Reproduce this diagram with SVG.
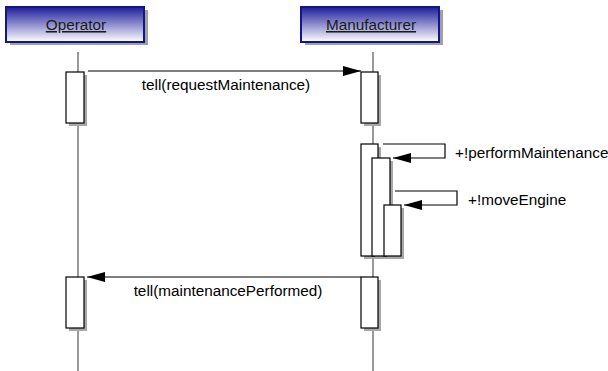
<svg xmlns="http://www.w3.org/2000/svg" width="608" height="371" viewBox="0 0 608 371">
  <defs>
    <linearGradient id="hdr" x1="0" y1="0" x2="0" y2="1">
      <stop offset="0" stop-color="#1e1e9a"/>
      <stop offset="1" stop-color="#ffffff"/>
    </linearGradient>
    <marker id="arrow" viewBox="0 0 18 10" refX="18" refY="5" markerWidth="18" markerHeight="10" markerUnits="userSpaceOnUse" orient="auto">
      <path d="M0,0 L18,5 L0,10 Z" fill="#000"/>
    </marker>
  </defs>
  <style>
    text { font-family: "Liberation Sans", Arial, sans-serif; font-size: 15.3px; fill: #000; }
    .hdr { fill: url(#hdr); stroke: #14148c; stroke-width: 2; }
    .hdr-shadow { fill: #a0a0a0; }
    .title { text-anchor: middle; text-decoration: underline; fill: #1a1a1a; }
    .life { stroke: #555; stroke-width: 1.2; fill: none; }
    .act { fill: #fff; stroke: #000; stroke-width: 1.2; }
    .act-shadow { fill: #a8a8a8; }
    .msg { stroke: #000; stroke-width: 1.2; fill: none; marker-end: url(#arrow); }
    .lbl { text-anchor: middle; }
  </style>

  <rect width="608" height="371" fill="#fff"/>

  <!-- lifelines -->
  <g id="lifelines">
    <line class="life" x1="78" y1="52" x2="78" y2="371"/>
    <line class="life" x1="373" y1="52" x2="373" y2="371"/>
  </g>

  <!-- participant: Operator -->
  <g id="operator">
    <rect class="hdr-shadow" x="10" y="10" width="138" height="35"/>
    <rect class="hdr" x="6" y="7" width="138" height="35"/>
    <text class="title" x="76" y="30">Operator</text>
    <rect class="act-shadow" x="69" y="75" width="18" height="51"/>
    <rect class="act" x="66" y="72" width="18" height="51"/>
    <rect class="act-shadow" x="69" y="280" width="18" height="51"/>
    <rect class="act" x="66" y="277" width="18" height="51"/>
  </g>

  <!-- participant: Manufacturer -->
  <g id="manufacturer">
    <rect class="hdr-shadow" x="305" y="10" width="138" height="35"/>
    <rect class="hdr" x="301" y="7" width="138" height="35"/>
    <text class="title" x="371" y="30">Manufacturer</text>
    <rect class="act-shadow" x="364" y="75" width="17" height="51"/>
    <rect class="act" x="361" y="72" width="17" height="51"/>
    <!-- nested activations for the self calls -->
    <rect class="act-shadow" x="364" y="147" width="17" height="112"/>
    <rect class="act" x="361" y="144" width="17" height="112"/>
    <rect class="act-shadow" x="375" y="161" width="18" height="98"/>
    <rect class="act" x="372" y="158" width="18" height="98"/>
    <rect class="act-shadow" x="387" y="208" width="17" height="51"/>
    <rect class="act" x="384" y="205" width="17" height="51"/>
    <rect class="act-shadow" x="364" y="280" width="17" height="51"/>
    <rect class="act" x="361" y="277" width="17" height="51"/>
  </g>

  <!-- messages -->
  <g id="connectors">
    <line class="msg" x1="88" y1="71" x2="361" y2="71"/>
    <text class="lbl" x="226" y="90">tell(requestMaintenance)</text>

    <polyline class="msg" points="383,144 445,144 445,158 393,158"/>
    <text x="455" y="158">+!performMaintenance</text>

    <polyline class="msg" points="395,191 457,191 457,205 404,205"/>
    <text x="468" y="205">+!moveEngine</text>

    <line class="msg" x1="361" y1="277" x2="87" y2="277"/>
    <text class="lbl" x="228" y="296">tell(maintenancePerformed)</text>
  </g>
</svg>
